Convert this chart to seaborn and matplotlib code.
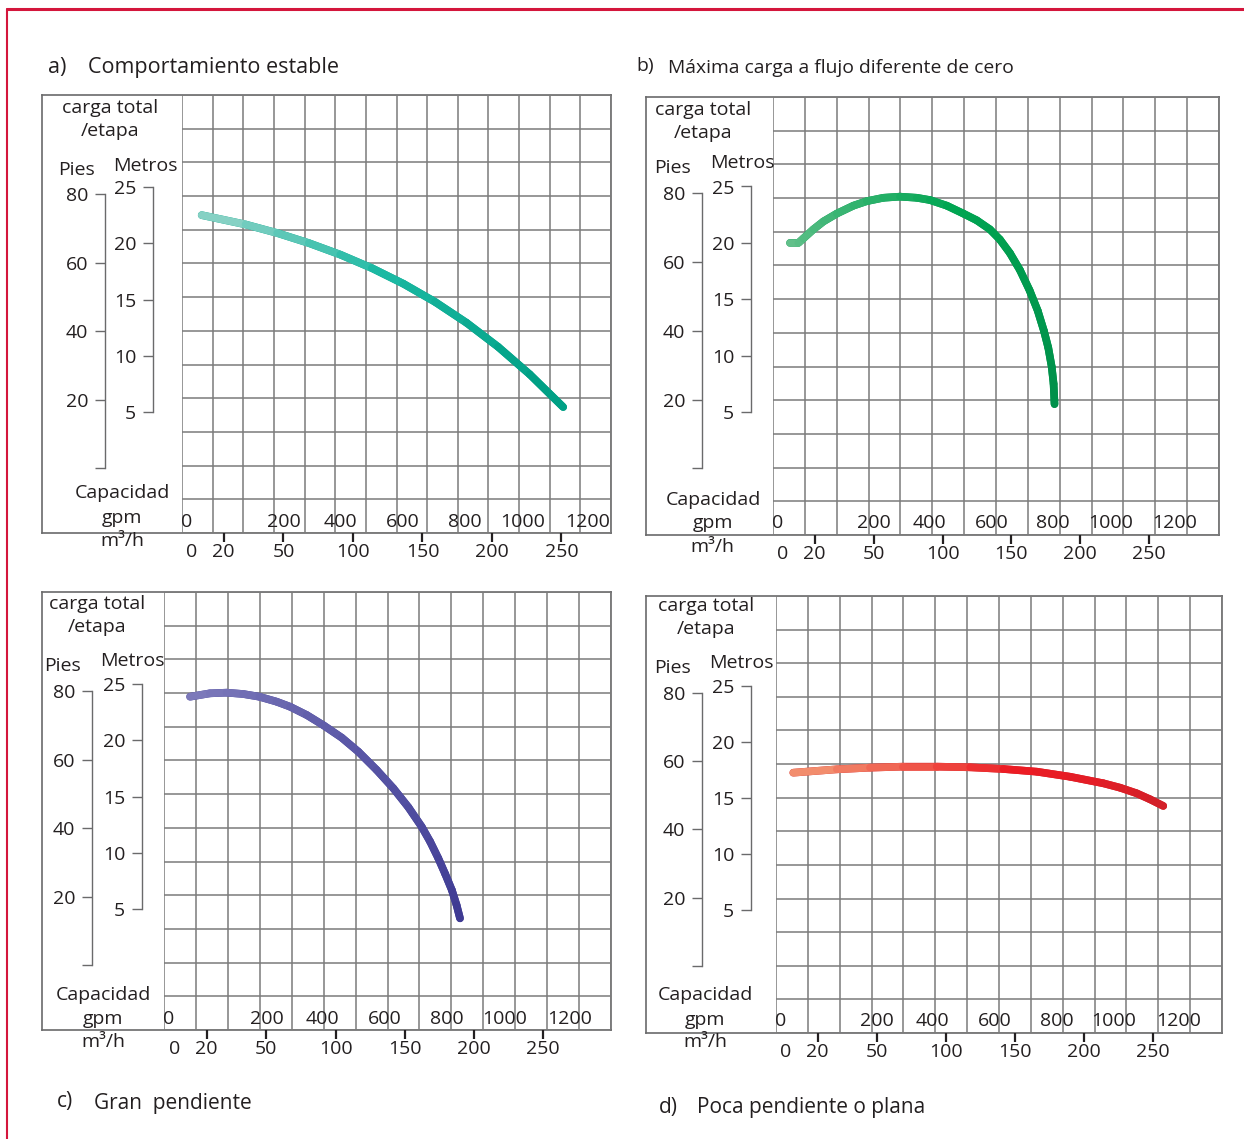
import numpy as np
import matplotlib
matplotlib.use('Agg')
import matplotlib.pyplot as plt
import matplotlib.transforms as mtransforms
from matplotlib.collections import LineCollection
from matplotlib.colors import LinearSegmentedColormap
from matplotlib.lines import Line2D
import seaborn as sns
import pandas as pd

# ---------------- data ----------------
gpm_a = [-39, 100, 200, 300, 400, 500, 600, 700, 800, 900, 1000, 1106]
head_a = [22.5, 21.67, 20.91, 20.02, 18.99, 17.79, 16.40, 14.79, 12.93, 10.79, 8.35, 5.44]

gpm_b = [-48, -21, -5, 27, 59, 102, 155, 198, 251, 304, 358, 400, 454, 507,
         550, 592, 624, 656, 688, 719, 745, 765, 779, 790, 796, 799]
head_b = [20.0, 20.0, 20.4, 21.2, 21.9, 22.6, 23.3, 23.7, 24.0, 24.1, 24.0, 23.8,
          23.3, 22.6, 22.0, 21.2, 20.3, 19.1, 17.6, 15.8, 14.0, 12.2, 10.7, 9.0, 7.5, 5.7]

gpm_c = [-22, 41, 94, 147, 198, 253, 296, 349, 402, 460, 513, 571, 624, 672,
         714, 741, 767, 789, 810, 825, 836]
head_c = [23.87, 24.17, 24.23, 24.11, 23.87, 23.43, 22.98, 22.24, 21.33, 20.23, 18.98,
          17.36, 15.73, 14.04, 12.32, 10.99, 9.51, 8.11, 6.69, 5.36, 4.17]

gpm_d = [-47, 92, 198, 305, 411, 518, 624, 731, 837, 944, 997, 1050, 1093, 1135]
head_d = [17.26, 17.56, 17.71, 17.80, 17.80, 17.74, 17.59, 17.35, 16.90, 16.31, 15.92,
          15.42, 14.88, 14.29]

gpm_labels = ['200', '400', '600', '800', '1000', '1200']
gpm_label_at = [221, 399, 597, 794, 978, 1183]     # where the drawing puts them
m3h_labels = ['0', '20', '50', '100', '150', '200', '250']
m3h_label_at = [-16, 7, 50, 100, 150, 200, 250]   # where the drawing puts them
metros_ticks = [5, 10, 15, 20, 25]
pies_ticks = [0, 20, 40, 60, 80]
pies_tick_labels = ['', '20', '40', '60', '80']

titles = [('a)', 'Comportamiento estable'),
          ('b)', 'Máxima carga a flujo diferente de cero'),
          ('c)', 'Gran  pendiente'),
          ('d)', 'Poca pendiente o plana')]

colors = [['#86d1c4', '#1cb9a3', '#00a085'],
          ['#62c08a', '#00a652', '#00904a'],
          ['#7c79ba', '#5956a6', '#3f3b93'],
          ['#f28d6d', '#ec1c24', '#d32029']]

curves = [(gpm_a, head_a), (gpm_b, head_b), (gpm_c, head_c), (gpm_d, head_d)]

# ---------------- layout (pixels) ----------------
W, H = 1244, 1139
M_PER_FT = 0.3048
GPM_PER_M3H = 4.4029
TXT = '#231f20'
GRID = '#7b7b7b'
BOX = '#6a6a6b'

layout = [
    dict(box=(42, 95, 611, 533), gl=182, x0=214, sx=0.3157, y25=187, sm=11.25,
         pies_x=105, met_x=153,
         labels=dict(carga=(110, 108), etapa=(110, 131), pies=(76, 170), metros=(145, 166),
                     cap=(122, 493), gpm=(122, 518), m3h=(122, 541)),
         title=((48, 67), (88, 67), 15.5)),
    dict(box=(646, 97, 1219, 535), gl=773, x0=805, sx=0.3123, y25=186.5, sm=11.275,
         pies_x=702, met_x=751,
         labels=dict(carga=(703, 110), etapa=(703, 133), pies=(673, 168), metros=(742, 163),
                     cap=(713, 500), gpm=(713, 523), m3h=(712, 547)),
         title=((636, 66), (668, 68), 13.9)),
    dict(box=(42, 592, 611, 1030), gl=164, x0=197, sx=0.3146, y25=684, sm=11.25,
         pies_x=92, met_x=142,
         labels=dict(carga=(97, 604), etapa=(97, 627), pies=(62, 666), metros=(132, 661),
                     cap=(103, 995), gpm=(103, 1019), m3h=(103, 1042)),
         title=((57, 1101), (94, 1104), 15)),
    dict(box=(646, 596, 1222, 1033), gl=776, x0=808, sx=0.313, y25=686, sm=11.2,
         pies_x=702, met_x=751,
         labels=dict(carga=(706, 606), etapa=(706, 629), pies=(672, 668), metros=(741, 663),
                     cap=(705, 995), gpm=(705, 1020), m3h=(705, 1042)),
         title=((659, 1108), (697, 1108), 15)),
]

sns.set_style('white')
plt.rcParams['font.family'] = ['Open Sans', 'DejaVu Sans']

fig = plt.figure(figsize=(W / 100, H / 100), dpi=100)


def frect(x1, y1, x2, y2):
    return [x1 / W, 1 - y2 / H, (x2 - x1) / W, (y2 - y1) / H]


def fpt(x, y):
    return x / W, 1 - y / H


# red frame
fig.add_artist(Line2D([7 / W, 1], [1 - 9 / H, 1 - 9 / H], transform=fig.transFigure,
                      color='#d4163c', lw=2.2))
fig.add_artist(Line2D([7 / W, 7 / W], [0, 1 - 9 / H], transform=fig.transFigure,
                      color='#d4163c', lw=1.5))

for P, (gx, hy), cols, (tl, tt) in zip(layout, curves, colors, titles):
    bx1, by1, bx2, by2 = P['box']

    # outer box
    axb = fig.add_axes(frect(bx1, by1, bx2, by2))
    axb.set_xticks([]); axb.set_yticks([])
    for s in axb.spines.values():
        s.set_color(BOX); s.set_linewidth(1.2)

    # grid / data axes (x in gpm, y in metres)
    gl = P['gl']
    ax = fig.add_axes(frect(gl, by1, bx2, by2))
    xlim = ((gl - P['x0']) / P['sx'], (bx2 - P['x0']) / P['sx'])
    ylim = (25 - (by2 - P['y25']) / P['sm'], 25 + (P['y25'] - by1) / P['sm'])
    ax.patch.set_visible(False)
    for s in ax.spines.values():
        s.set_visible(False)

    df = pd.DataFrame({'gpm': gx, 'm': hy})
    sns.lineplot(data=df, x='gpm', y='m', ax=ax, color=cols[-1], lw=5.5, sort=False,
                 estimator=None, solid_capstyle='round', solid_joinstyle='round', zorder=3)
    pts = np.column_stack([gx, hy])
    segs = np.stack([pts[:-1], pts[1:]], axis=1)
    cmap = LinearSegmentedColormap.from_list('grad', cols)
    lc = LineCollection(segs, colors=cmap(np.linspace(0, 1, len(segs))), linewidths=5.5,
                        capstyle='round', joinstyle='round', zorder=4)
    ax.add_collection(lc)

    ax.set_xlim(xlim); ax.set_ylim(ylim)
    ax.set_xlabel(''); ax.set_ylabel('')
    ax.set_xticks(np.linspace(xlim[0], xlim[1], 15))
    ax.set_yticks(np.linspace(ylim[0], ylim[1], 14))
    ax.tick_params(length=0, labelbottom=False, labelleft=False)
    ax.grid(True, color=GRID, lw=1.1)
    ax.set_axisbelow(True)

    # gpm labels inside bottom row
    trans = mtransforms.blended_transform_factory(ax.transData, ax.transAxes)
    yf = 11.5 / (by2 - by1)
    for v, lab in zip(gpm_label_at, gpm_labels):
        ax.text(v, yf, lab, transform=trans, ha='center', va='center',
                fontsize=14, color=TXT)
    ax.text(4.5 / (bx2 - gl), yf, '0', transform=ax.transAxes, ha='center', va='center',
            fontsize=14, color=TXT)

    # m3/h axis below the box
    sec = ax.secondary_xaxis('bottom', functions=(lambda g: g / GPM_PER_M3H,
                                                  lambda q: q * GPM_PER_M3H))
    sec.set_xticks(m3h_label_at, m3h_labels)
    sec.tick_params(length=6.5, width=1.6, color=TXT, pad=1.0, labelsize=14, labelcolor=TXT)
    sec.spines['bottom'].set_visible(False)
    sec.xaxis.get_major_ticks()[0].tick1line.set_visible(False)

    # metros scale
    axm = fig.add_axes(frect(P['met_x'], by1, P['met_x'] + 1, by2))
    axm.set_ylim(ylim)
    axm.patch.set_visible(False)
    for k in ['right', 'top', 'bottom']:
        axm.spines[k].set_visible(False)
    axm.spines['left'].set_bounds(5, 25)
    axm.spines['left'].set_color(BOX); axm.spines['left'].set_linewidth(1.0)
    axm.set_xticks([])
    axm.set_yticks(metros_ticks)
    axm.tick_params(axis='y', length=7, width=1.0, color=BOX, pad=5, labelsize=14,
                    labelcolor=TXT, left=True)

    # pies scale
    axp = fig.add_axes(frect(P['pies_x'], by1, P['pies_x'] + 1, by2))
    axp.set_ylim(ylim[0] / M_PER_FT, ylim[1] / M_PER_FT)
    axp.patch.set_visible(False)
    for k in ['right', 'top', 'bottom']:
        axp.spines[k].set_visible(False)
    axp.spines['left'].set_bounds(0, 80)
    axp.spines['left'].set_color(BOX); axp.spines['left'].set_linewidth(1.0)
    axp.set_xticks([])
    axp.set_yticks(pies_ticks, pies_tick_labels)
    axp.tick_params(axis='y', length=7, width=1.0, color=BOX, pad=5, labelsize=14,
                    labelcolor=TXT, left=True)

    L = P['labels']
    for key, txt in [('carga', 'carga total'), ('etapa', '/etapa'), ('pies', 'Pies'),
                     ('metros', 'Metros'), ('cap', 'Capacidad'), ('gpm', 'gpm'),
                     ('m3h', 'm³/h')]:
        fig.text(*fpt(*L[key]), txt, ha='center', va='center', fontsize=14, color=TXT)

    (p1, p2, fs) = P['title']
    fig.text(*fpt(*p1), tl, ha='left', va='center', fontsize=fs, color=TXT)
    fig.text(*fpt(*p2), tt, ha='left', va='center', fontsize=fs, color=TXT)

fig.savefig('out.png', dpi=100)
